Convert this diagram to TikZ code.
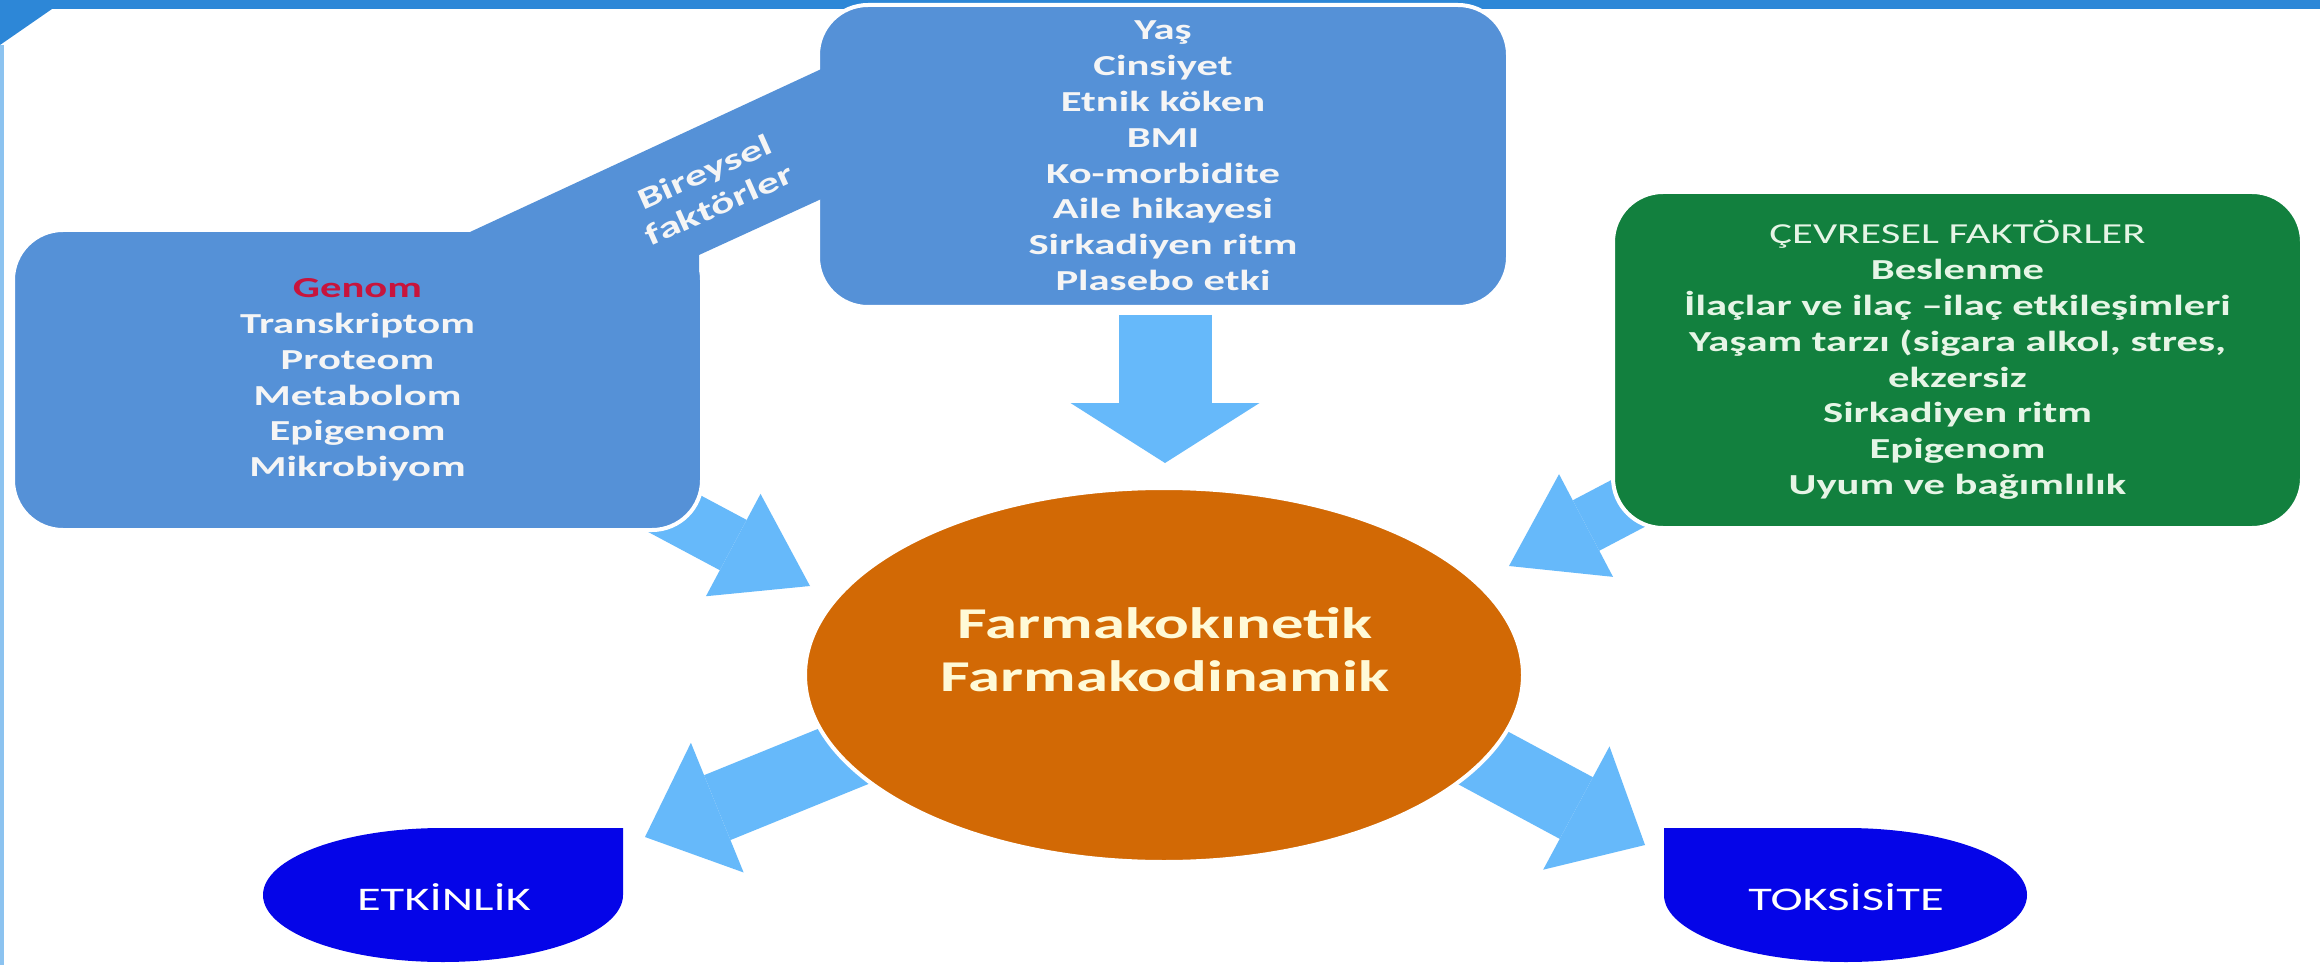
\documentclass[tikz,border=0pt]{standalone}
\usepackage{fontspec}
\setmainfont{Carlito}[FakeStretch=1.47]
\usetikzlibrary{arrows.meta,shapes.geometric}
\definecolor{boxblue}{RGB}{85,145,215}
\definecolor{arrowblue}{RGB}{102,185,250}
\definecolor{envgreen}{RGB}{18,128,62}
\definecolor{pkorange}{RGB}{210,105,5}
\definecolor{outblue}{RGB}{5,5,232}
\definecolor{barblue}{RGB}{45,135,215}
\definecolor{edgeblue}{RGB}{140,195,240}
\definecolor{genomred}{RGB}{200,20,60}
\definecolor{boxtext}{RGB}{245,245,245}
\definecolor{greentext}{RGB}{230,245,230}
\definecolor{pktext}{RGB}{255,250,215}
\tikzset{
  factorbox/.style={rectangle, rounded corners=50pt, draw=white, line width=4pt, inner sep=0pt,
    align=center, text=boxtext, font=\bfseries\fontsize{29}{35.8}\selectfont},
  bigarrow/.style n args={3}{draw=arrowblue, line width=#1, line cap=butt,
    arrows={-{Triangle[width=#2, length=#3, line width=0pt]}}},
  outtext/.style={text=white, font=\fontsize{33}{40}\selectfont},
}
\begin{document}
\begin{tikzpicture}[x=1pt,y=-1pt]
\useasboundingbox (0,0) rectangle (2320,965);
\fill[white] (0,0) rectangle (2320,965);
% frame
\fill[barblue] (0,0) rectangle (2320,9);
\fill[barblue] (0,0) -- (65,0) -- (0,45) -- cycle;
\fill[edgeblue] (0,45) rectangle (4,965);
% arrow end points
\coordinate (a1s) at (630,490);
\coordinate (a1e) at (810,586);
\coordinate (a2s) at (1165,315);
\coordinate (a2e) at (1165,463);
\coordinate (a3s) at (1665,484);
\coordinate (a3e) at (1509,566);
\coordinate (a4s) at (923,724);
\coordinate (a4e) at (645,837);
\coordinate (a5s) at (1381,703);
\coordinate (a5e) at (1645,845);
% arrows
\draw[bigarrow={57pt}{116pt}{87pt}] (a1s) -- (a1e);
\draw[bigarrow={93pt}{189pt}{60pt}] (a2s) -- (a2e);
\draw[bigarrow={57pt}{116pt}{87pt}] (a3s) -- (a3e);
\draw[bigarrow={70pt}{140pt}{78pt}] (a4s) -- (a4e);
\draw[bigarrow={70pt}{140pt}{78pt}] (a5s) -- (a5e);
% boxes
\node[factorbox, fill=boxblue, minimum width=689pt, minimum height=300pt] (genom) at (357.5,380)
  {{\color{genomred}Genom}\\Transkriptom\\Proteom\\Metabolom\\Epigenom\\Mikrobiyom};
\node[factorbox, fill=boxblue, minimum width=690pt, minimum height=302pt] (yas) at (1163,156)
  {Yaş\\Cinsiyet\\Etnik köken\\BMI\\Ko-morbidite\\Aile hikayesi\\Sirkadiyen ritm\\Plasebo etki};
\node[factorbox, fill=envgreen, text=greentext, minimum width=689pt, minimum height=336pt] (cevre) at (1957.5,360)
  {{\mdseries ÇEVRESEL FAKTÖRLER}\\Beslenme\\İlaçlar ve ilaç –ilaç etkileşimleri\\Yaşam tarzı (sigara alkol, stres,\\ekzersiz\\Sirkadiyen ritm\\Epigenom\\Uyum ve bağımlılık};
% banner joining the two blue boxes
\fill[boxblue] (470,232) -- (830,65) -- (830,195) -- (699,255) -- (699,300) -- (640,300) -- cycle;
\node[rotate=24, align=center, text=boxtext, font=\bfseries\fontsize{30}{36}\selectfont] (bireysel) at (712,188) {Bireysel\\faktörler};
% centre ellipse
\node[ellipse, fill=pkorange, draw=white, line width=4pt, minimum width=718pt, minimum height=374pt, inner sep=0pt] (pk) at (1164,675) {};
\node[align=center, text=pktext, font=\bfseries\fontsize{44}{53}\selectfont] (pktxt) at (1165,650) {Farmakokınetik\\Farmakodinamik};
% outcome shapes
\fill[outblue] (623,828) -- (443,828) .. controls (343.6,828) and (263,858) .. (263,895)
  .. controls (263,932) and (343.6,962) .. (443,962) .. controls (542.4,962) and (623,932) .. (623,895) -- cycle;
\node[outtext] (etk) at (444,897) {ETKİNLİK};
\fill[outblue] (1664,828) -- (1846,828) .. controls (1946,828) and (2027,858) .. (2027,895)
  .. controls (2027,932) and (1946,962) .. (1846,962) .. controls (1745,962) and (1664,932) .. (1664,895) -- cycle;
\node[outtext] (tok) at (1846,897) {TOKSİSİTE};
\end{tikzpicture}
\end{document}
